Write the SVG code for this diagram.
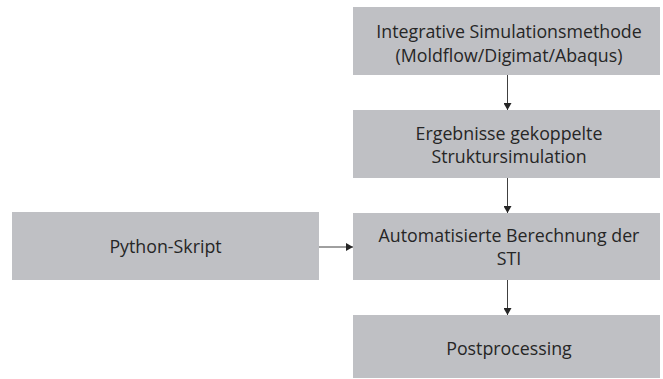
<svg xmlns="http://www.w3.org/2000/svg" width="663" height="379" viewBox="0 0 663 379">
<style>
.box{fill:#BFC0C4;}
.t{font-family:"Open Sans","Liberation Sans",sans-serif;font-size:17.8px;fill:#262626;text-anchor:middle;}
.c{stroke:#404040;stroke-width:1;fill:none;}
</style>
<defs>
<marker id="ah" markerWidth="7" markerHeight="8" refX="7" refY="4" orient="auto" markerUnits="userSpaceOnUse">
<path d="M0,0 L7,4 L0,8 Z" fill="#262626"/>
</marker>
</defs>
<rect width="663" height="379" fill="#FFFFFF"/>
<g id="n1"><rect class="box" x="353" y="7" width="307" height="68"/>
<text class="t" x="509" y="38">Integrative Simulationsmethode</text>
<text class="t" x="509" y="62">(Moldflow/Digimat/Abaqus)</text></g>
<g id="n2"><rect class="box" x="353" y="110" width="307" height="68"/>
<text class="t" x="509" y="140">Ergebnisse gekoppelte</text>
<text class="t" x="509" y="163">Struktursimulation</text></g>
<g id="n3"><rect class="box" x="353" y="213" width="307" height="67"/>
<text class="t" x="509" y="242">Automatisierte Berechnung der</text>
<text class="t" x="509" y="265">STI</text></g>
<g id="n4"><rect class="box" x="353" y="315" width="307" height="63"/>
<text class="t" x="509" y="355">Postprocessing</text></g>
<g id="n5"><rect class="box" x="12" y="212" width="307" height="68"/>
<text class="t" x="165.5" y="253">Python-Skript</text></g>
<g id="connectors">
<line class="c" x1="507.5" y1="75" x2="507.5" y2="110" marker-end="url(#ah)"/>
<line class="c" x1="507.5" y1="178" x2="507.5" y2="213" marker-end="url(#ah)"/>
<line class="c" x1="507.5" y1="280" x2="507.5" y2="315" marker-end="url(#ah)"/>
<line class="c" x1="319" y1="247" x2="353" y2="247" marker-end="url(#ah)"/>
</g>
</svg>
